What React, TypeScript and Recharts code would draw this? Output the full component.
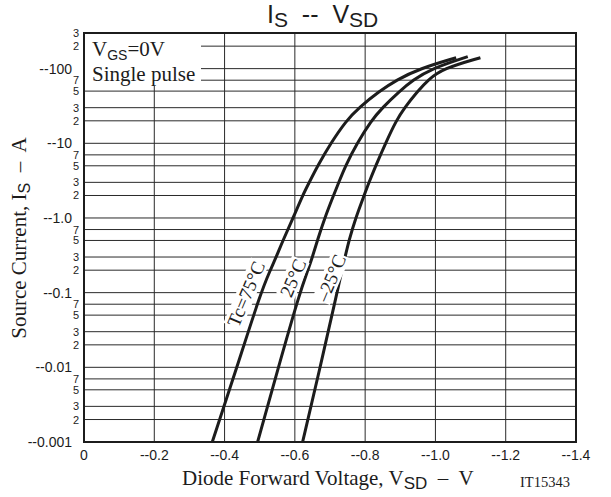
import React from 'react';
import { LineChart, Line, XAxis, YAxis, CartesianGrid, ReferenceArea } from 'recharts';

// |I_S| in A and |V_SD| in V
const currentsTc75 = [0.001, 0.01, 0.1, 0.2, 0.3, 0.5, 1, 2, 3, 5, 10, 20, 30, 50, 70, 100, 140];
const voltsTc75 = [0.365, 0.435, 0.503, 0.53, 0.547, 0.566, 0.595, 0.622, 0.641, 0.665, 0.702, 0.746, 0.782, 0.841, 0.888, 0.955, 1.059];

const currentsTc25 = [0.001, 0.01, 0.1, 0.2, 0.3, 0.5, 1, 2, 3, 5, 10, 20, 30, 50, 70, 100, 145];
const voltsTc25 = [0.494, 0.553, 0.614, 0.637, 0.65, 0.664, 0.685, 0.71, 0.725, 0.744, 0.777, 0.817, 0.849, 0.898, 0.936, 0.988, 1.092];

const currentsTcm25 = [0.001, 0.01, 0.1, 0.2, 0.3, 0.5, 1, 2, 3, 5, 10, 20, 30, 50, 70, 100, 140];
const voltsTcm25 = [0.622, 0.672, 0.72, 0.734, 0.743, 0.754, 0.773, 0.797, 0.811, 0.83, 0.858, 0.888, 0.912, 0.95, 0.978, 1.021, 1.128];

const xTicks = [0, 0.2, 0.4, 0.6, 0.8, 1.0, 1.2, 1.4];
const yTicks = [
  0.001, 0.002, 0.003, 0.005, 0.007,
  0.01, 0.02, 0.03, 0.05, 0.07,
  0.1, 0.2, 0.3, 0.5, 0.7,
  1, 2, 3, 5, 7,
  10, 20, 30, 50, 70,
  100, 200, 300,
];
const majorLabels: Record<string, string> = {
  '0.001': '--0.001', '0.01': '--0.01', '0.1': '--0.1', '1': '--1.0', '10': '--10', '100': '--100',
};

const toPoints = (v: number[], i: number[]) => v.map((x, k) => ({ v: x, i: i[k] }));

const SANS = '"Liberation Sans", Arial, sans-serif';
const SERIF = '"Liberation Serif", "Times New Roman", serif';
const INK = '#1c1c1c';

function YTick(props: any) {
  const { x, y, payload } = props;
  const val = payload.value as number;
  const major = majorLabels[String(val)];
  if (major) {
    return (
      <text x={x - 12} y={y} dy={5} textAnchor="end" fontFamily={SANS} fontSize={14} fill={INK}>
        {major}
      </text>
    );
  }
  const lead = String(val).replace(/[0.]/g, '')[0];
  return (
    <text x={x - 5} y={y} dy={4} textAnchor="end" fontFamily={SANS} fontSize={11} fill={INK}>
      {lead}
    </text>
  );
}

function CurveLabel({ left, top, children }: { left: number; top: number; children: React.ReactNode }) {
  return (
    <div
      style={{
        position: 'absolute', left, top, transform: 'translate(-50%, -50%) rotate(-67deg)',
        background: '#fff', fontFamily: SERIF, fontSize: 19, lineHeight: '19px', color: INK,
        whiteSpace: 'nowrap', padding: '0 1px',
      }}
    >
      {children}
    </div>
  );
}

export default function App() {
  return (
    <div style={{ position: 'absolute', left: 0, top: 0, width: 611, height: 497, background: '#fff', overflow: 'hidden' }}>
      <LineChart width={611} height={497} margin={{ top: 33, right: 35, left: 0, bottom: 0 }}>
        <CartesianGrid stroke="#2a2a2a" strokeWidth={1} />
        <XAxis
          type="number"
          dataKey="v"
          domain={[0, 1.4]}
          ticks={xTicks}
          height={55}
          tickLine={false}
          axisLine={false}
          tick={{ fontFamily: SANS, fontSize: 14, fill: INK }}
          tickFormatter={(v: number) => (v === 0 ? '0' : `--${v.toFixed(1)}`)}
          tickMargin={2}
        />
        <YAxis
          type="number"
          dataKey="i"
          scale="log"
          domain={[0.001, 300]}
          ticks={yTicks}
          allowDataOverflow
          width={84}
          tickLine={false}
          tickSize={0}
          tickMargin={0}
          axisLine={false}
          interval={0}
          tick={<YTick />}
        />
        <ReferenceArea x1={0} x2={1.4} y1={0.001} y2={300} fill="none" stroke={INK} strokeWidth={2} ifOverflow="visible" />
        <Line data={toPoints(voltsTc75, currentsTc75)} dataKey="i" type="basis" stroke={INK} strokeWidth={3} dot={false} isAnimationActive={false} />
        <Line data={toPoints(voltsTc25, currentsTc25)} dataKey="i" type="basis" stroke={INK} strokeWidth={3} dot={false} isAnimationActive={false} />
        <Line data={toPoints(voltsTcm25, currentsTcm25)} dataKey="i" type="basis" stroke={INK} strokeWidth={3} dot={false} isAnimationActive={false} />
      </LineChart>

      {/* legend box */}
      <div style={{ position: 'absolute', left: 85, top: 34, width: 116, height: 52, background: '#fff', fontFamily: SERIF, fontSize: 21, color: INK }}>
        <div style={{ position: 'absolute', left: 7, top: 4, lineHeight: '22px', whiteSpace: 'nowrap' }}>
          V<span style={{ fontFamily: SANS, fontSize: 14, position: 'relative', top: 4 }}>GS</span>=0V
        </div>
        <div style={{ position: 'absolute', left: 7, top: 30, lineHeight: '20px', whiteSpace: 'nowrap' }}>Single pulse</div>
      </div>

      <CurveLabel left={246} top={294}>Tc=75°C</CurveLabel>
      <CurveLabel left={293} top={278}>25°C</CurveLabel>
      <CurveLabel left={331} top={278}>–25°C</CurveLabel>

      {/* title */}
      <div style={{ position: 'absolute', left: 267, top: 0, fontFamily: SANS, fontSize: 25, color: INK, whiteSpace: 'nowrap', lineHeight: '28px' }}>
        I<span style={{ fontSize: 21, position: 'relative', top: 4 }}>S</span>&nbsp; --&nbsp; V<span style={{ fontSize: 21, position: 'relative', top: 4 }}>SD</span>
      </div>

      {/* y axis title */}
      <div style={{ position: 'absolute', left: 20, top: 238, transform: 'translate(-50%, -50%) rotate(-90deg)', fontFamily: SERIF, fontSize: 21, color: INK, whiteSpace: 'nowrap', lineHeight: '24px' }}>
        Source Current, I<span style={{ fontFamily: SANS, fontSize: 16, position: 'relative', top: 4 }}>S</span>&nbsp; –&nbsp; A
      </div>

      {/* x axis title */}
      <div style={{ position: 'absolute', left: 182, top: 466, fontFamily: SERIF, fontSize: 21, color: INK, whiteSpace: 'nowrap', lineHeight: '24px' }}>
        Diode Forward Voltage, V<span style={{ fontFamily: SANS, fontSize: 17, position: 'relative', top: 4 }}>SD</span>&nbsp; –&nbsp; V
      </div>
      <div style={{ position: 'absolute', left: 520, top: 474, fontFamily: SERIF, fontSize: 14.5, color: INK, whiteSpace: 'nowrap', lineHeight: '16px' }}>
        IT15343
      </div>
    </div>
  );
}
